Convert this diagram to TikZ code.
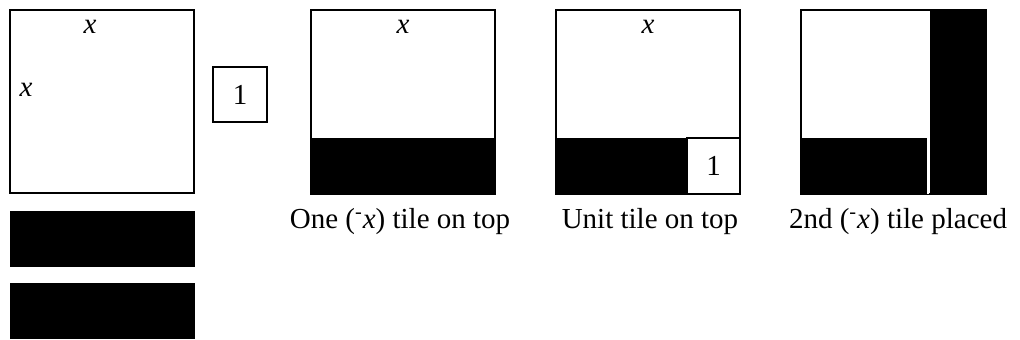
\documentclass[tikz,border=0pt]{standalone}
\usepackage{fontspec}
\setmainfont{Liberation Serif}
\usetikzlibrary{positioning,fit}

\begin{document}
\begin{tikzpicture}[
  x=0.5pt, y=-0.5pt,
  tile/.style={draw,line width=1pt,fill=white,inner sep=0pt},
  negtile/.style={fill=black,inner sep=0pt},
  lbl/.style={font=\fontsize{14.5pt}{17pt}\selectfont,inner sep=0pt},
  tilecaption/.style={font=\fontsize{14.5pt}{17pt}\selectfont,inner sep=0pt,anchor=base}
]
\useasboundingbox (0,0) rectangle (1020,340);

% starting tiles
\node[tile,fit={(10,10) (194,193)}]    (sqA)   {};
\node[lbl] (sqAtop)  at (90,27)  {\textit{x}};
\node[lbl] (sqAside) at (26,90)  {\textit{x}};
\node[tile,fit={(213,67) (267,122)}]   (unitA) {};
\node[lbl] (unitAlbl) at (unitA.center) {1};
\node[negtile,fit={(10,211) (195,267)}] (negA) {};
\node[negtile,fit={(10,283) (195,339)}] (negB) {};

% one (-x) tile on top
\node[tile,fit={(311,10) (495,194)}]   (sqB)   {};
\node[negtile,fit={(311,138) (495,194)}] (negC) {};
\node[lbl] (sqBtop) at (403,27) {\textit{x}};
\node[tilecaption] (capB) at (400,229) {One (\textsuperscript{-}\textit{x}) tile on top};

% unit tile on top
\node[tile,fit={(556,10) (740,194)}]   (sqC)   {};
\node[negtile,fit={(556,138) (687,194)}] (negD) {};
\node[tile,fit={(687,138) (740,194)}]  (unitB) {};
\node[lbl] (unitBlbl) at (unitB.center) {1};
\node[lbl] (sqCtop) at (648,27) {\textit{x}};
\node[tilecaption] (capC) at (650,229) {Unit tile on top};

% 2nd (-x) tile placed
\node[tile,fit={(801,10) (986,194)}]   (sqD)   {};
\node[negtile,fit={(801,138) (928,194)}] (negE) {};
\node[negtile,fit={(930,9) (987,195)}]  (negF) {};
\draw[white,line width=1pt] (negE.north east) -- (negE.south east);
\node[tilecaption] (capD) at (898,229) {2nd (\textsuperscript{-}\textit{x}) tile placed};
\end{tikzpicture}
\end{document}
